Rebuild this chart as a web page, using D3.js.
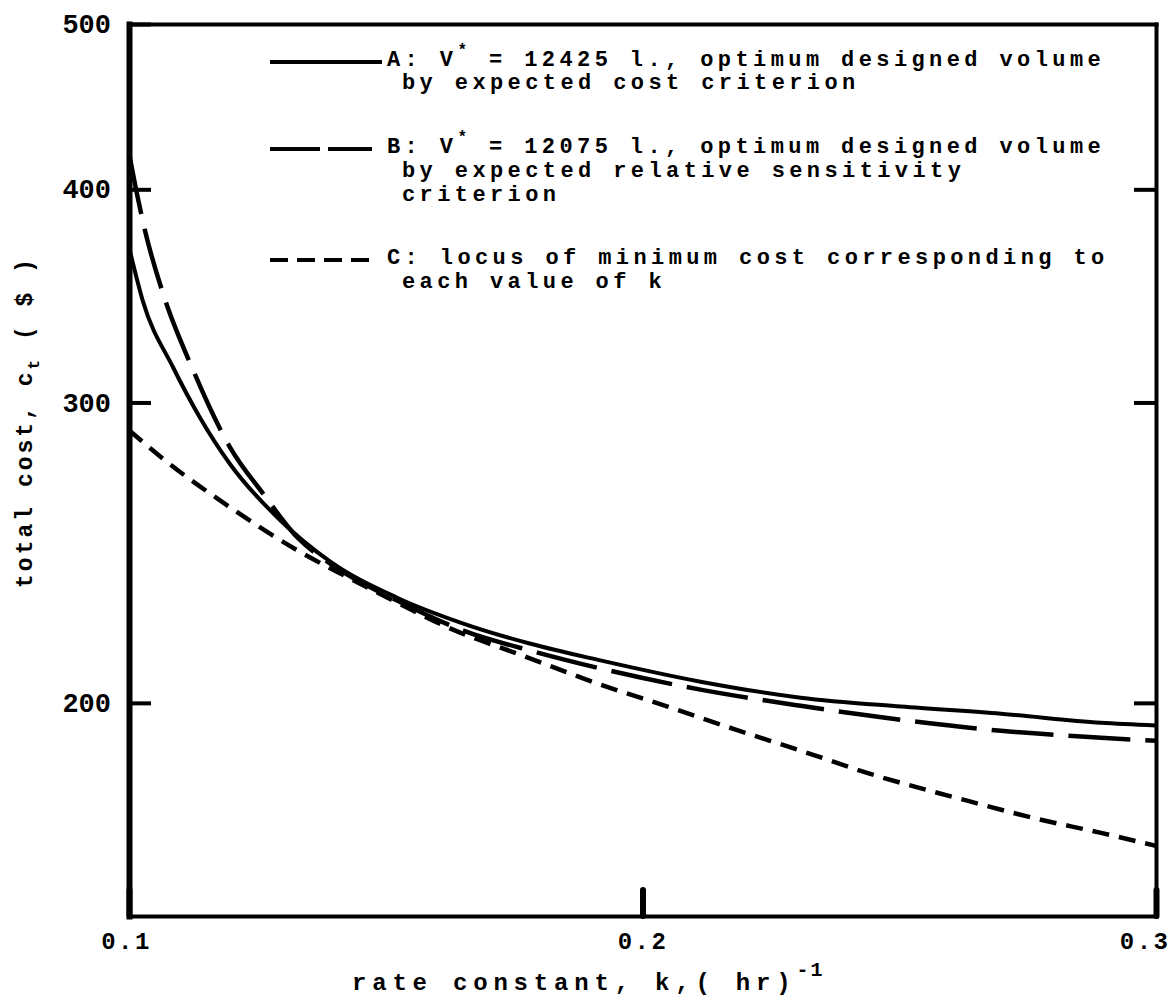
<!DOCTYPE html>
<html><head><meta charset="utf-8">
<script src="https://cdn.jsdelivr.net/npm/d3@7"></script>
<style>
html,body{margin:0;padding:0;background:#fff;}
svg{display:block;}
text{font-family:"Liberation Mono","DejaVu Sans Mono",monospace;font-weight:bold;fill:#000;}
</style></head><body>
<svg id="chart" width="1169" height="1004"></svg>
<script>
// ---- data ----
const kTicks = [0.1, 0.2, 0.3];
const kTickLabels = ["0.1", "0.2", "0.3"];
const costTicks = [200, 300, 400, 500];
const costTickLabels = ["200", "300", "400", "500"];

// Curve A: V* = 12425 l (expected cost criterion)
const kA    = [0.100, 0.1027, 0.1086, 0.1138, 0.1197, 0.1294, 0.1392, 0.1522, 0.1651, 0.1782, 0.1918, 0.2113, 0.2308, 0.2503, 0.2698, 0.2893, 0.300];
const costA = [370, 344, 314.5, 294, 276, 256, 242, 230.5, 222.6, 216.6, 211.8, 205.8, 201.4, 199.0, 197.1, 194.7, 194.0];
// Curve B: V* = 12075 l (expected relative sensitivity criterion)
const kB    = [0.100, 0.1014, 0.1031, 0.1066, 0.1125, 0.1197, 0.1261, 0.1328, 0.1392, 0.1522, 0.1651, 0.1782, 0.1918, 0.2113, 0.2308, 0.2503, 0.2698, 0.2893, 0.300];
const costB = [420, 399.6, 378.5, 347.7, 313.3, 282.3, 265.3, 250, 241.3, 229.6, 220.5, 214.6, 209.5, 203.6, 199.2, 195.5, 192.6, 190.8, 190.0];
// Curve C: locus of minimum cost for each k
const kC    = [0.100, 0.1066, 0.1197, 0.1328, 0.1425, 0.1522, 0.1620, 0.1768, 0.1918, 0.2049, 0.2177, 0.2308, 0.2439, 0.2634, 0.2762, 0.2893, 0.300];
const costC = [289, 278.1, 260.4, 245.7, 237.0, 229.0, 221.5, 213.1, 205.0, 199.0, 193.1, 187.5, 181.9, 175.2, 171.2, 167.8, 164.9];

const legendLine1 = [
  "A: V* = 12425 l., optimum designed volume",
  "B: V* = 12075 l., optimum designed volume",
  "C: locus of minimum cost corresponding to"
];
const legendMore = [
  ["by expected cost criterion"],
  ["by expected relative sensitivity", "criterion"],
  ["each value of k"]
];
const xTitle = "rate constant, k,( hr)";
const xTitleSup = "-1";
const yTitle = ["total cost, c", "t", " ( $ )"];

// ---- drawing ----
const svg = d3.select("#chart");
const x = d3.scaleLinear().domain([0.1, 0.3]).range([129, 1156]);
const y = d3.scaleLog().domain([150, 500]).range([916, 24]);

const styles = [
  {k: kA, c: costA, dash: null, w: 4},
  {k: kB, c: costB, dash: "62,15", w: 4.5},
  {k: kC, c: costC, dash: "17,10", w: 4.5}
];

const line = d3.line().x(d => x(d[0])).y(d => y(d[1])).curve(d3.curveMonotoneX);
styles.forEach(s => {
  svg.append("path")
    .datum(s.k.map((k, i) => [k, s.c[i]]))
    .attr("d", line)
    .attr("fill", "none")
    .attr("stroke", "#000")
    .attr("stroke-width", s.w)
    .attr("stroke-dasharray", s.dash);
});

// axes
const gl = svg.append("g").attr("transform", "translate(129,0)")
  .call(d3.axisLeft(y).tickValues(costTicks).tickFormat((d, i) => costTickLabels[i])
    .tickSizeInner(-22).tickSizeOuter(0).tickPadding(18));
gl.select(".domain").attr("stroke-width", 6).attr("stroke-linecap", "square");
gl.selectAll(".tick line").attr("stroke-width", 4);
gl.selectAll(".tick text").attr("font-size", 27).attr("font-family", "Liberation Mono").attr("font-weight", "bold");

const gr = svg.append("g").attr("transform", "translate(1156,0)")
  .call(d3.axisRight(y).tickValues(costTicks.slice(0, 3)).tickFormat("")
    .tickSizeInner(-22).tickSizeOuter(0));
gr.select(".domain").attr("stroke-width", 4).attr("stroke-linecap", "square");
gr.selectAll(".tick line").attr("stroke-width", 4);

const gt = svg.append("g").attr("transform", "translate(0,24)")
  .call(d3.axisTop(x).tickValues([]).tickSizeOuter(0));
gt.select(".domain").attr("stroke-width", 4).attr("stroke-linecap", "square");

const gb = svg.append("g").attr("transform", "translate(0,916)")
  .call(d3.axisBottom(x).tickValues(kTicks).tickFormat((d, i) => kTickLabels[i])
    .tickSizeInner(-26).tickSizeOuter(0).tickPadding(16));
gb.select(".domain").attr("stroke-width", 4).attr("stroke-linecap", "square");
gb.selectAll(".tick line").attr("stroke-width", 6).attr("stroke-linecap", "round");
gb.selectAll(".tick text").attr("font-size", 24).attr("letter-spacing", 2.5)
  .attr("font-family", "Liberation Mono").attr("font-weight", "bold");
gb.selectAll(".tick text").filter((d, i) => i === kTicks.length - 1)
  .attr("text-anchor", "end").attr("x", 14);
gb.selectAll(".tick text").filter((d, i) => i === 0).attr("x", -3);

// legend
const rowBase = [66, 153, 264];
const rowGap = [23, 24, 24];
const sampleDash = [null, "50,8", "18,9"];
legendLine1.forEach((txt, i) => {
  const by = rowBase[i];
  svg.append("line")
    .attr("x1", 270).attr("x2", i === 0 ? 382 : 372)
    .attr("y1", by - 4).attr("y2", by - 4)
    .attr("stroke", "#000").attr("stroke-width", 4)
    .attr("stroke-dasharray", sampleDash[i]);
  const t = svg.append("text").attr("x", 387).attr("y", by)
    .attr("font-size", 22).attr("letter-spacing", 4.4);
  const parts = txt.split("*");
  if (parts.length > 1) {
    t.append("tspan").text(parts[0]);
    t.append("tspan").attr("dy", -11).attr("font-size", 16).text("*");
    t.append("tspan").attr("dy", 11).text(parts[1]);
  } else {
    t.text(txt);
  }
  legendMore[i].forEach((m, j) => {
    svg.append("text").attr("x", 402).attr("y", by + rowGap[i] * (j + 1))
      .attr("font-size", 22).attr("letter-spacing", 4.4).text(m);
  });
});

// axis titles
const xt = svg.append("text").attr("x", 352).attr("y", 990)
  .attr("font-size", 24).attr("letter-spacing", 5.8);
xt.append("tspan").text(xTitle);
xt.append("tspan").attr("dy", -14).attr("font-size", 20).attr("letter-spacing", 2).text(xTitleSup);

const yt = svg.append("text").attr("transform", "translate(32,422) rotate(-90)")
  .attr("text-anchor", "middle").attr("font-size", 23).attr("letter-spacing", 3);
yt.append("tspan").text(yTitle[0]);
yt.append("tspan").attr("dy", 7).attr("font-size", 16).text(yTitle[1]);
yt.append("tspan").attr("dy", -7).text(yTitle[2]);
</script>
</body></html>
